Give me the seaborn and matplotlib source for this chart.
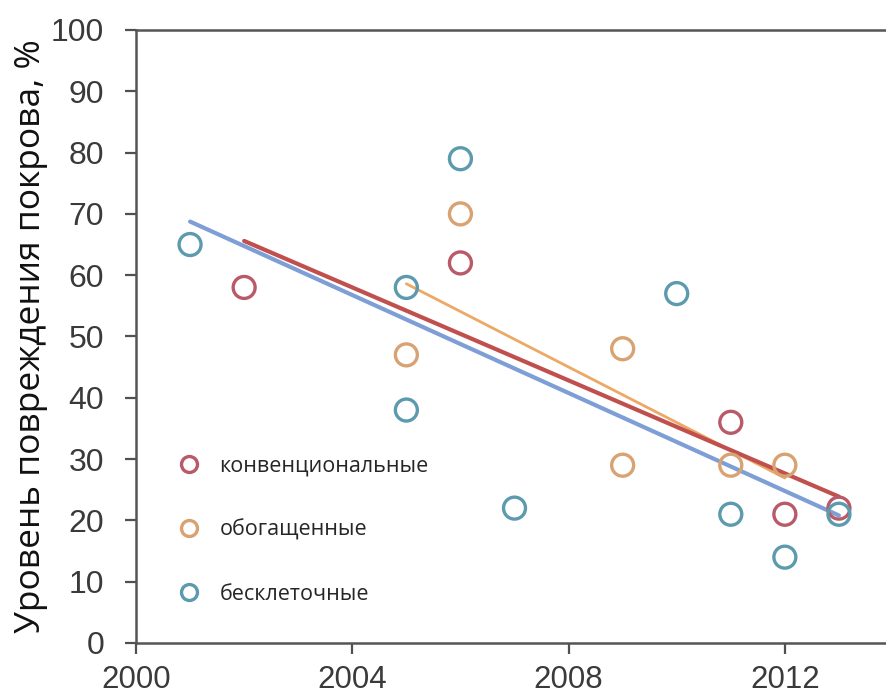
import matplotlib
matplotlib.use("Agg")
import matplotlib.pyplot as plt
from matplotlib.lines import Line2D
import seaborn as sns
import pandas as pd

# Observed damage level by year for three vaccine types
series_names = ["конвенциональные", "обогащенные", "бесклеточные"]

conv_years = [2002, 2006, 2011, 2012, 2013]
conv_values = [58, 62, 36, 21, 22]

enr_years = [2005, 2006, 2009, 2009, 2011, 2012]
enr_values = [47, 70, 48, 29, 29, 29]

acel_years = [2001, 2005, 2005, 2006, 2007, 2010, 2011, 2012, 2013]
acel_values = [65, 58, 38, 79, 22, 57, 21, 14, 21]

x_ticks = [2000, 2004, 2008, 2012]
y_ticks = [0, 10, 20, 30, 40, 50, 60, 70, 80, 90, 100]

marker_colors = ["#B85A68", "#D9A272", "#5C9AAE"]
line_colors = ["#C0504D", "#EDA866", "#7E9ED6"]
line_widths = [3.0, 2.0, 3.0]

df = pd.concat([
    pd.DataFrame({"year": conv_years, "value": conv_values, "type": series_names[0]}),
    pd.DataFrame({"year": enr_years, "value": enr_values, "type": series_names[1]}),
    pd.DataFrame({"year": acel_years, "value": acel_values, "type": series_names[2]}),
], ignore_index=True)

sns.set_theme(style="white")
plt.rcParams["font.family"] = ["Liberation Sans", "DejaVu Sans"]

fig = plt.figure(figsize=(8.86, 6.96), dpi=100)
ax = fig.add_axes([0.1535, 0.0762, 0.8544, 0.8807])

# Trend lines: blue underneath, red on top
for idx in [2, 1, 0]:
    sub = df[df["type"] == series_names[idx]]
    sns.regplot(data=sub, x="year", y="value", scatter=False, ci=None,
                truncate=True, ax=ax,
                line_kws={"color": line_colors[idx], "lw": line_widths[idx],
                          "zorder": 2 + (2 - idx) * 0.1})

# Hollow circle markers
for idx in range(3):
    sub = df[df["type"] == series_names[idx]]
    sns.scatterplot(data=sub, x="year", y="value", ax=ax, s=250,
                    marker="o", facecolors="none",
                    edgecolor=marker_colors[idx], linewidth=2.4,
                    zorder=3, legend=False)

ax.set_xlim(2000, 2014)
ax.set_ylim(0, 100)
ax.set_xticks(x_ticks)
ax.set_yticks(y_ticks)
ax.tick_params(axis="both", which="major", direction="out", length=8,
               width=1.6, color="#505050", labelsize=23, labelcolor="#3A3A3A",
               left=True, bottom=True)
ax.tick_params(axis="y", pad=15)
ax.tick_params(axis="x", pad=8, labelsize=22.5)

for side in ["left", "bottom", "top"]:
    ax.spines[side].set_visible(True)
    ax.spines[side].set_color("#555555")
    ax.spines[side].set_linewidth(1.8)
ax.spines["right"].set_visible(False)

ax.set_xlabel("")
ax.set_ylabel("Уровень повреждения покрова, %", fontsize=25.5,
              family=["Open Sans", "DejaVu Sans"], color="#111111", labelpad=2)

handles = [
    Line2D([], [], linestyle="none", marker="o", markersize=11.5,
           markerfacecolor="none", markeredgecolor=marker_colors[i],
           markeredgewidth=2.4, label=series_names[i])
    for i in range(3)
]
ax.legend(handles=handles, loc="upper left", bbox_to_anchor=(0.045, 0.32),
          frameon=False, labelspacing=2.0, handletextpad=0.9,
          handlelength=1.0, borderaxespad=0,
          prop={"family": ["Open Sans", "DejaVu Sans"], "size": 15.5})

fig.savefig("out.png", dpi=100)
